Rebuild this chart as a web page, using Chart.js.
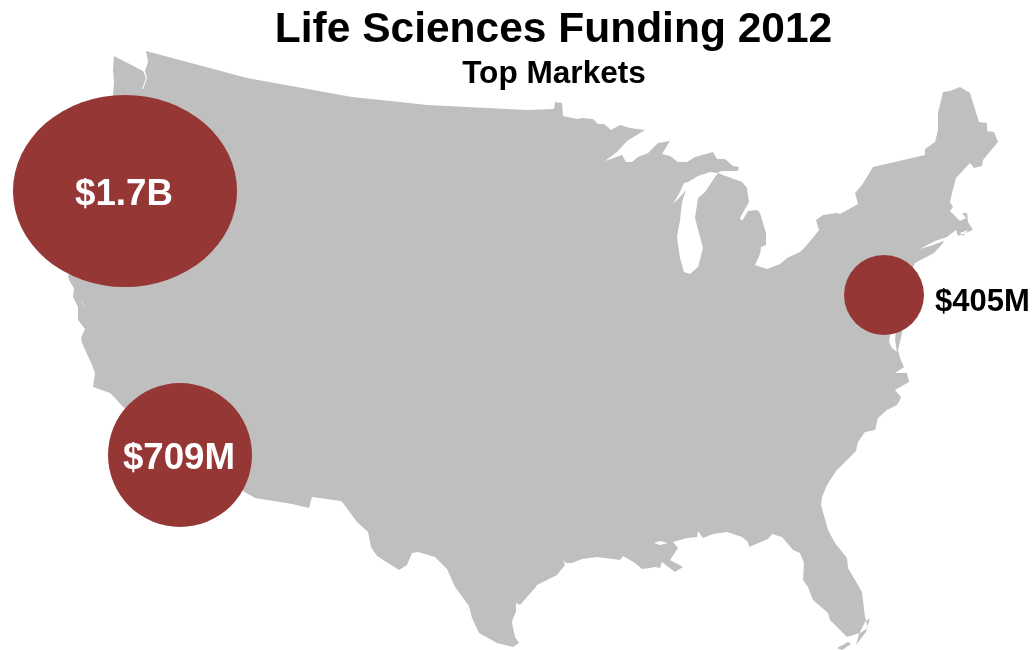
<!DOCTYPE html>
<html>
<head>
<meta charset="utf-8">
<title>Life Sciences Funding 2012</title>
<script src="https://cdn.jsdelivr.net/npm/chart.js@4/dist/chart.umd.min.js"></script>
<style>
    html, body { margin: 0; padding: 0; background: #ffffff; }
    canvas { display: block; }
</style>
</head>
<body>
<canvas id="fundingMap" width="1033" height="650"></canvas>
<script>
var titleText = 'Life Sciences Funding 2012';
var subtitleText = 'Top Markets';

// Markets, west coast first
var marketLabels = ['$1.7B', '$709M', '$405M'];
var marketX = [125, 180, 884];
var marketY = [191, 455, 295];
var marketRadius = [96, 72, 40];
var marketStretch = [1.167, 1, 1];

// US outline, null starts a new ring (holes are filled even-odd)
var mapX = [
    114, 143, 146, 142, 143, 147, 145, 148, 146, 247, 352, 400, 427, 527, 554, 555, 562, 563, 577, 582,
    593, 598, 604, 611, 620, 630, 645, 627, 617, 605, 622, 626, 632, 638, 648, 658, 670, 662, 670, 678,
    687, 695, 713, 717, 725, 733, 739, 738, 722, 717, 710, 698, 688, 684, 680, 673, 680, 686, 682, 680,
    677, 680, 684, 690, 698, 703, 695, 698, 705, 715, 718, 723, 742, 747, 749, 740, 742, 748, 757, 760,
    766, 766, 761, 760, 755, 767, 780, 787, 800, 807, 819, 816, 823, 837, 840, 858, 855, 862, 873, 925,
    925, 935, 938, 938, 943, 950, 960, 970, 979, 987, 987, 994, 998, 983, 982, 974, 970, 956, 952, 950,
    953, 950, 960, 966, 962, 967, 968, 973, 958, 956, 947, 935, 920, 930, 944, 943, 934, 915, 900, 902,
    898, 900, 904, 895, 907, 909, 895, 901, 900, 897, 887, 878, 875, 865, 858, 856, 836, 827, 822, 821,
    828, 835, 847, 848, 862, 865, 868, 860, 847, 830, 828, 813, 808, 803, 804, 800, 793, 782, 772, 768,
    749, 748, 742, 727, 713, 703, 698, 697, 687, 673, 678, 670, 683, 675, 662, 660, 655, 650, 642, 635,
    623, 620, 597, 582, 572, 566, 563, 565, 557, 537, 535, 520, 516, 516, 513, 512, 515, 519, 513, 497,
    479, 472, 469, 455, 447, 435, 418, 412, 407, 399, 377, 371, 368, 357, 343, 341, 312, 309, 292, 255,
    243, 200, 123, 115, 110, 93, 95, 92, 82, 81, 85, 78, 78, 73, 74, 70, 68, 90, 108, 113, 114, 113,
    null,
    654, 660, 668, 660,
    null,
    891, 889, 892, 897, 895, 896,
    null,
    82, 84, 83,
    null,
    870, 866, 856, 859, 865,
    null,
    837, 848, 851, 842,
    null,
    960, 968, 963
];
var mapY = [
    56, 71, 78, 89, 89, 78, 71, 62, 51, 78, 97, 102, 105, 110, 109, 102, 103, 116, 119, 118,
    119, 124, 124, 130, 125, 128, 130, 141, 152, 161, 155, 162, 162, 157, 153, 143, 141, 154, 156, 162,
    162, 157, 152, 159, 159, 166, 167, 171, 171, 173, 172, 176, 182, 183, 192, 204, 197, 190, 202, 220,
    237, 258, 272, 274, 267, 248, 218, 198, 192, 177, 173, 175, 182, 188, 202, 218, 221, 211, 210, 213,
    233, 245, 247, 254, 265, 269, 264, 258, 252, 245, 230, 220, 215, 213, 214, 204, 193, 185, 167, 155,
    149, 142, 130, 113, 92, 91, 87, 93, 122, 123, 131, 132, 142, 160, 166, 168, 163, 178, 193, 202,
    207, 211, 221, 218, 213, 213, 222, 230, 236, 230, 237, 241, 249, 246, 241, 243, 253, 263, 300, 333,
    350, 358, 367, 373, 373, 382, 390, 397, 400, 405, 410, 418, 430, 432, 442, 451, 471, 485, 497, 505,
    530, 543, 558, 568, 592, 617, 628, 633, 637, 620, 613, 600, 587, 580, 563, 553, 550, 537, 534, 539,
    547, 542, 537, 532, 534, 538, 531, 537, 538, 542, 548, 560, 567, 572, 562, 568, 567, 568, 569, 563,
    556, 560, 557, 559, 563, 563, 560, 565, 575, 585, 588, 605, 603, 612, 618, 623, 637, 643, 647, 643,
    633, 618, 606, 587, 569, 557, 552, 553, 565, 570, 556, 547, 532, 522, 503, 501, 497, 508, 504, 498,
    491, 440, 407, 398, 393, 387, 373, 365, 343, 338, 329, 320, 307, 297, 288, 282, 277, 200, 120, 95, 82, 70,
    null,
    543, 541, 543, 545,
    null,
    330, 342, 348, 352, 340, 330,
    null,
    301, 309, 303,
    null,
    618, 632, 645, 634, 622,
    null,
    648, 642, 644, 650,
    null,
    233, 230, 236
];

var mapColor = '#bfbfbf';
var bubbleColor = '#953735';

// Fills the outline from the line element's own path so the rings can hold holes
var mapFill = {
    id: 'mapFill',
    beforeDatasetDraw: function(chart, args) {
        var ds = chart.data.datasets[args.index];
        if (ds.landFill) {
            var ctx = chart.ctx;
            ctx.save();
            ctx.beginPath();
            args.meta.dataset.path(ctx);
            ctx.fillStyle = ds.landFill;
            ctx.fill('evenodd');
            ctx.restore();
        }
        // wide bubbles are drawn as circles in a stretched space
        if (ds.xStretch && ds.xStretch !== 1) {
            var p = args.meta.data[0];
            chart.ctx.save();
            chart.ctx.translate(p.x, 0);
            chart.ctx.scale(ds.xStretch, 1);
            chart.ctx.translate(-p.x, 0);
        }
    },
    afterDatasetDraw: function(chart, args) {
        var ds = chart.data.datasets[args.index];
        if (ds.xStretch && ds.xStretch !== 1) {
            chart.ctx.restore();
        }
    }
};

var textLabels = {
    id: 'textLabels',
    afterDatasetsDraw: function(chart) {
        var ctx = chart.ctx;
        var font = '"Liberation Sans", Arial, sans-serif';
        ctx.save();
        ctx.textAlign = 'center';
        ctx.textBaseline = 'alphabetic';
        ctx.fillStyle = '#000000';
        ctx.font = 'bold 42.5px ' + font;
        ctx.fillText(titleText, 553.5, 42);
        ctx.font = 'bold 31.6px ' + font;
        ctx.fillText(subtitleText, 554, 83);

        var xScale = chart.scales.x;
        var yScale = chart.scales.y;
        for (var i = 0; i < marketLabels.length; i++) {
            var px = xScale.getPixelForValue(marketX[i]);
            var py = yScale.getPixelForValue(marketY[i]);
            if (i < 2) {
                // big bubbles carry the amount inside
                ctx.fillStyle = '#ffffff';
                ctx.font = 'bold 36.7px ' + font;
                ctx.textAlign = 'center';
                ctx.fillText(marketLabels[i], px - 1, py + 14);
            } else {
                ctx.fillStyle = '#000000';
                ctx.font = 'bold 31px ' + font;
                ctx.textAlign = 'left';
                ctx.fillText(marketLabels[i], px + marketRadius[i] + 11, py + 16);
            }
        }
        ctx.restore();
    }
};

var datasets = [];
for (var i = 0; i < marketLabels.length; i++) {
    datasets.push({
        type: 'bubble',
        label: marketLabels[i],
        data: [{ x: marketX[i], y: marketY[i], r: marketRadius[i] }],
        xStretch: marketStretch[i],
        backgroundColor: bubbleColor,
        borderWidth: 0,
        clip: false
    });
}

var outline = [];
for (var j = 0; j < mapX.length; j++) {
    outline.push({ x: mapX[j], y: mapY[j] });
}
// last in the list, so it is painted below the bubbles
datasets.push({
    type: 'scatter',
    label: 'United States',
    data: outline,
    showLine: true,
    spanGaps: false,
    landFill: mapColor,
    borderWidth: 0,
    borderColor: 'rgba(0,0,0,0)',
    pointRadius: 0,
    clip: false
});

new Chart(document.getElementById('fundingMap').getContext('2d'), {
    type: 'bubble',
    data: { datasets: datasets },
    plugins: [mapFill, textLabels],
    options: {
        responsive: false,
        animation: false,
        layout: { padding: 0, autoPadding: false },
        plugins: {
            legend: { display: false },
            title: { display: false },
            tooltip: { enabled: false }
        },
        scales: {
            x: { type: 'linear', display: false, min: 0, max: 1033 },
            y: { type: 'linear', display: false, min: 0, max: 650, reverse: true }
        }
    }
});
</script>
</body>
</html>
